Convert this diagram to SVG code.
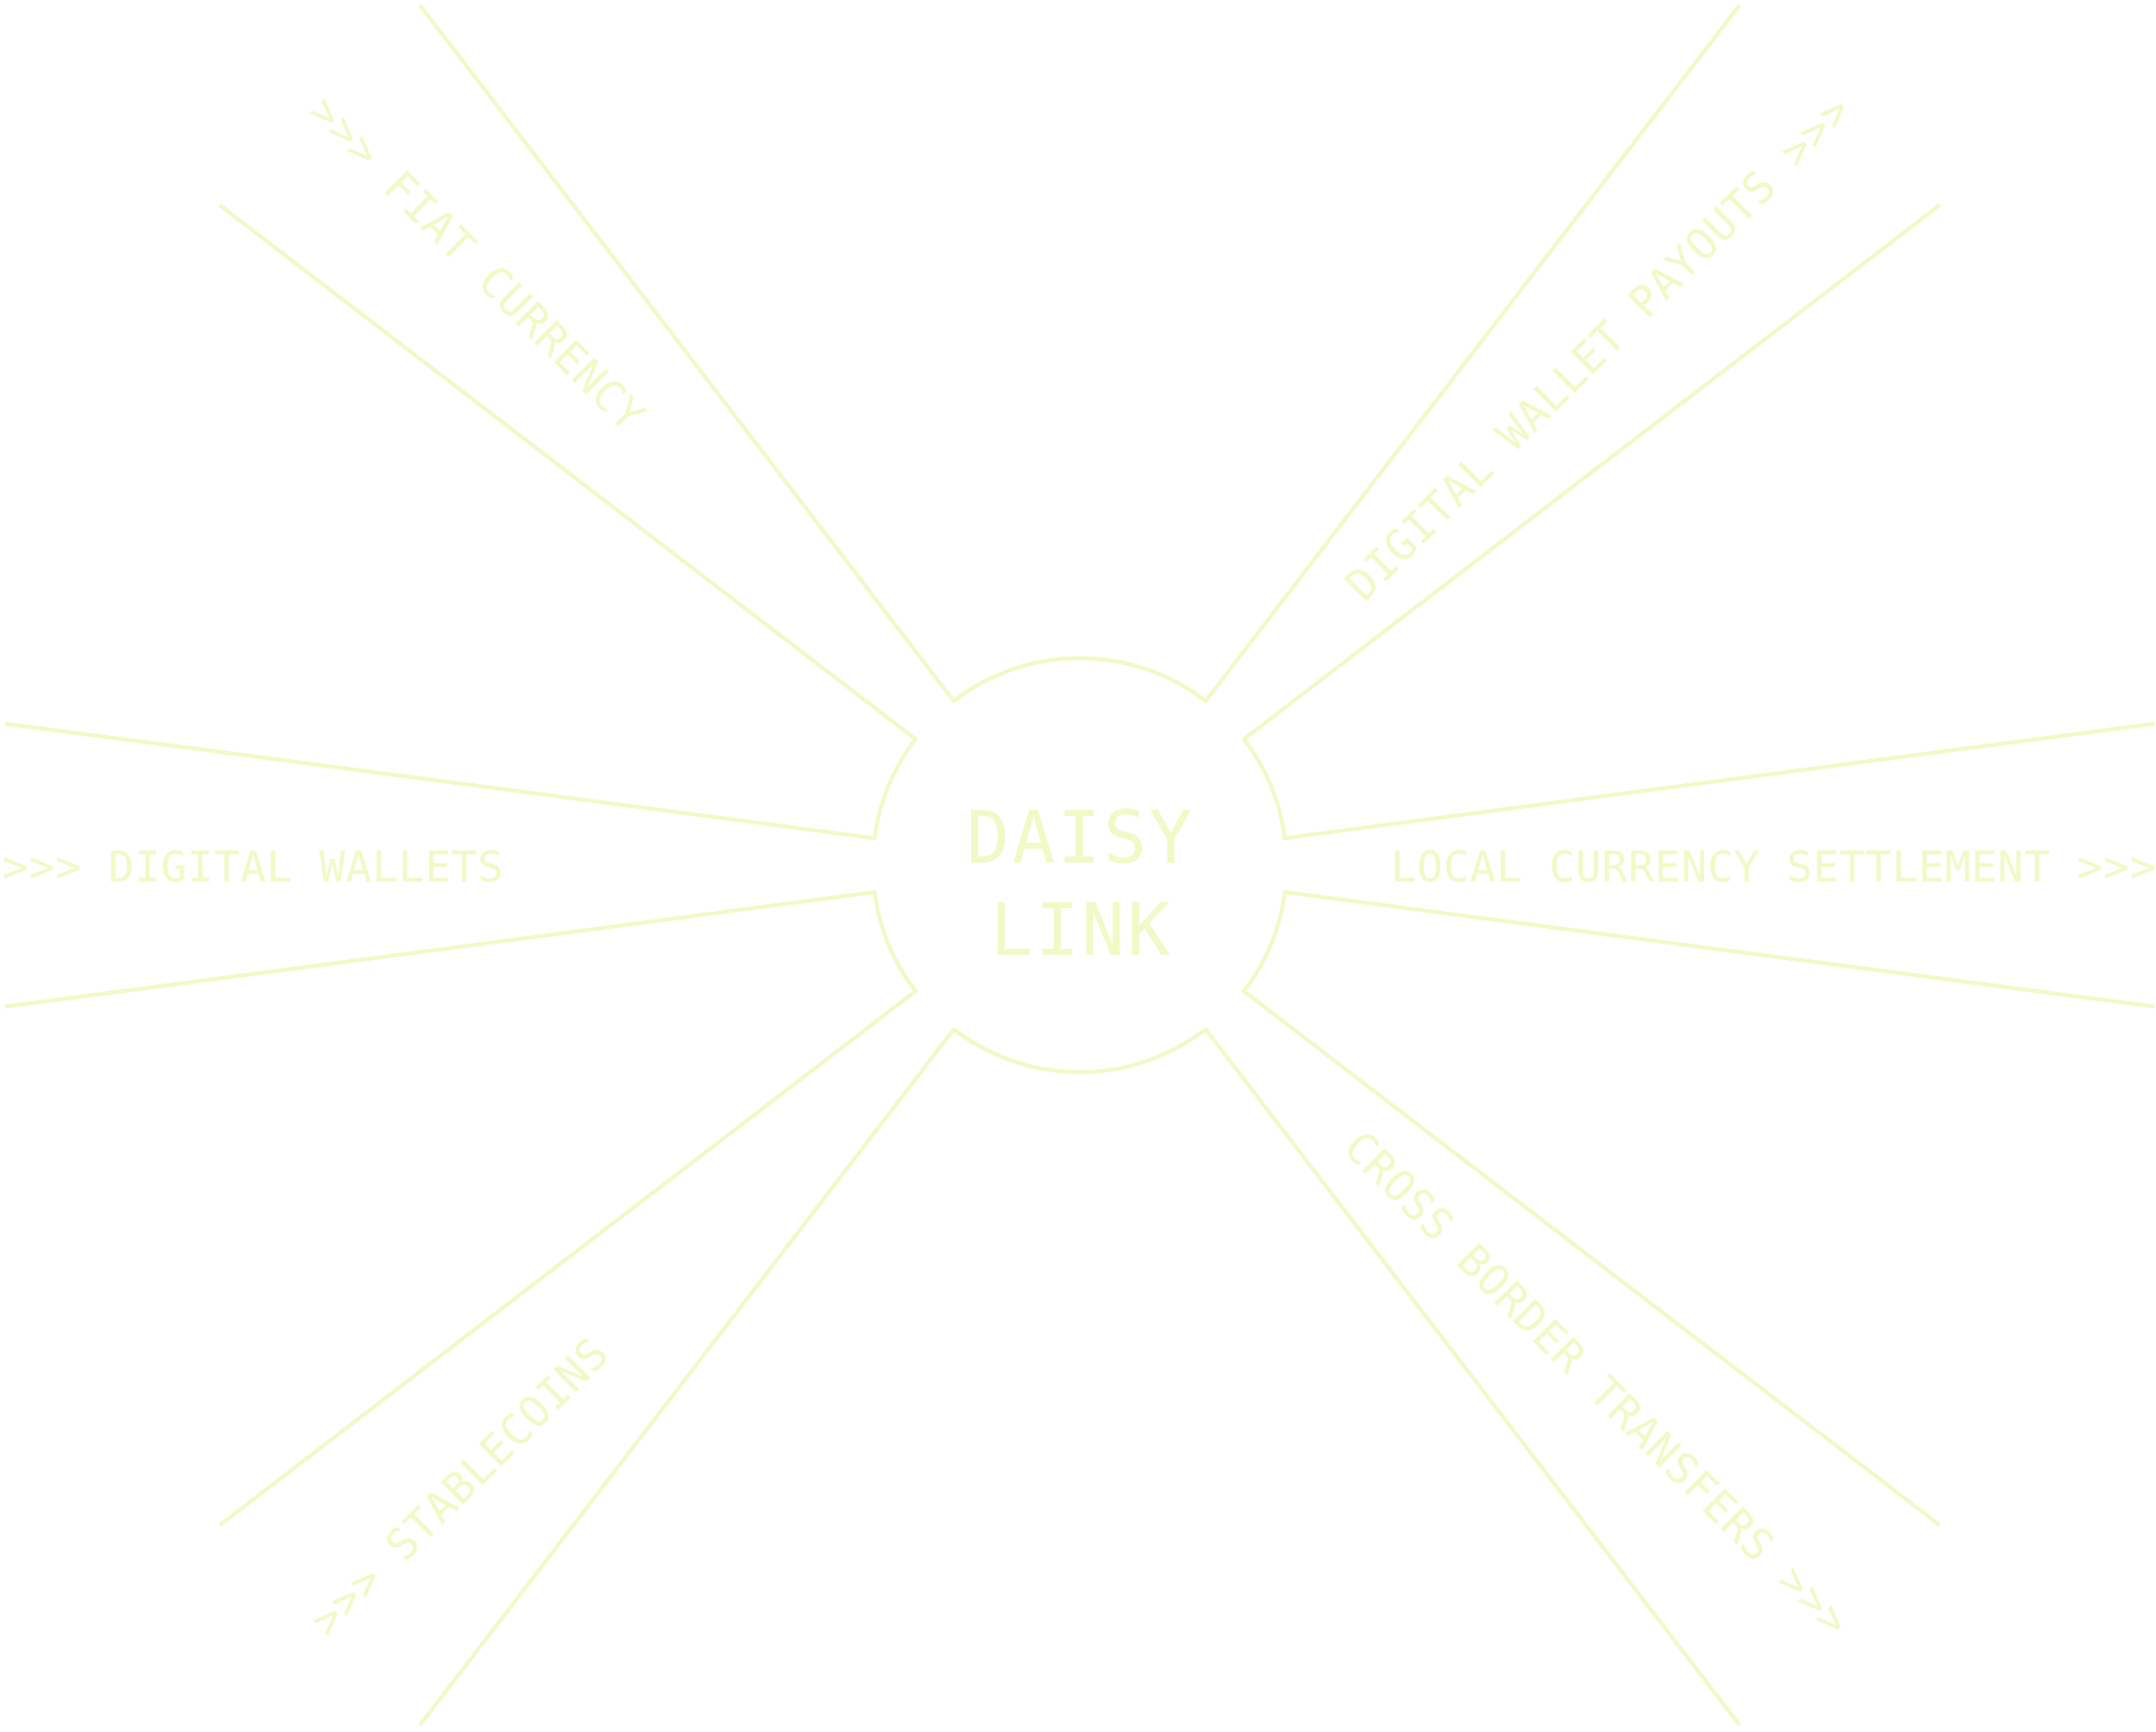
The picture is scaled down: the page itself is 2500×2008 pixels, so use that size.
<svg xmlns="http://www.w3.org/2000/svg" width="2500" height="2008" viewBox="0 0 2500 2008">
<style>
.line{fill:none;stroke:#F1F9C6;stroke-width:4.5;stroke-linejoin:miter;stroke-linecap:butt}
.lbl{font-family:"DejaVu Sans Mono","Liberation Mono",monospace;font-size:50px;fill:#F1F9C6;letter-spacing:0.8px}
.lbl-h{letter-spacing:0.5px}
.hub{font-family:"DejaVu Sans Mono","Liberation Mono",monospace;font-size:83px;fill:#F1F9C6;letter-spacing:3px}
</style>
<rect width="2500" height="2008" fill="#FFFFFF"/>
<g id="connectors">
<path class="line" d="M 2498.25 838.93 L 1489.95 971.67 A 240 240 0 0 0 1442.40 856.90 L 2249.24 237.79"/>
<path class="line" d="M 2017.21 5.76 L 1398.10 812.60 A 240 240 0 0 0 1105.90 812.60 L 486.79 5.76"/>
<path class="line" d="M 254.76 237.79 L 1061.60 856.90 A 240 240 0 0 0 1014.05 971.67 L 5.75 838.93"/>
<path class="line" d="M 5.75 1167.07 L 1014.05 1034.33 A 240 240 0 0 0 1061.60 1149.10 L 254.76 1768.21"/>
<path class="line" d="M 486.79 2000.24 L 1105.90 1193.40 A 240 240 0 0 0 1398.10 1193.40 L 2017.21 2000.24"/>
<path class="line" d="M 2249.24 1768.21 L 1442.40 1149.10 A 240 240 0 0 0 1489.95 1034.33 L 2498.25 1167.07"/>
</g>
<g id="hub-daisy-link">
<text class="hub" x="1253" y="1000" text-anchor="middle">DAISY</text>
<text class="hub" x="1254" y="1107" text-anchor="middle">LINK</text>
</g>
<g id="label-digital-wallets">
<text class="lbl lbl-h" x="3" y="1022">&gt;&gt;&gt; DIGITAL WALLETS</text>
</g>
<g id="label-local-currency-settlement">
<text class="lbl lbl-h" x="2500" y="1022" text-anchor="end">LOCAL CURRENCY SETTLEMENT &gt;&gt;&gt;</text>
</g>
<g id="label-fiat-currency">
<text class="lbl" transform="translate(1252 1003) rotate(45)" x="-1250" y="18.5">&gt;&gt;&gt; FIAT CURRENCY</text>
</g>
<g id="label-digital-wallet-payouts">
<text class="lbl" transform="translate(1252 1003) rotate(-45)" x="448" y="18.5">DIGITAL WALLET PAYOUTS &gt;&gt;&gt;</text>
</g>
<g id="label-stablecoins">
<text class="lbl" transform="translate(1252 1003) rotate(-45)" x="-1250" y="18.5">&gt;&gt;&gt; STABLECOINS</text>
</g>
<g id="label-cross-border-transfers">
<text class="lbl" transform="translate(1252 1003) rotate(45)" x="448" y="18.5">CROSS BORDER TRANSFERS &gt;&gt;&gt;</text>
</g>
</svg>
